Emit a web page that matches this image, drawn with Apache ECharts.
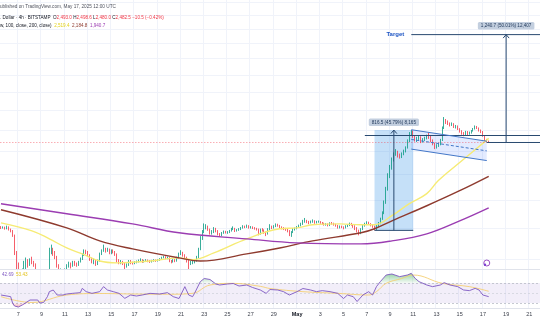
<!DOCTYPE html>
<html>
<head>
<meta charset="utf-8">
<title>ETH/USD 4h</title>
<script src="https://cdn.jsdelivr.net/npm/echarts@6/dist/echarts.min.js"></script>
<style>
html,body{margin:0;padding:0;background:#ffffff;}
#chart{width:540px;height:336px;}
</style>
</head>
<body>
<div id="chart"></div>
<script>
// ---------- data: ETH / USD, 4h bars, Bitstamp ----------
const firstBarTime = Date.UTC(2025, 3, 5, 12);   // first bar: Apr 5 12:00 UTC
const slotCount = 279;                            // time slots on the axis (incl. empty space on the right)
const firstOpen = 1805;

const closes = [
  1800,1805,1795,
  1805,1790,1780,1750,1640,1570,
  1480,1450,1530,1560,1590,1570,
  1595,1580,1565,1530,1490,1470,
  1450,1420,1470,1520,1650,1660,
  1640,1610,1560,1510,1530,1520,
  1530,1560,1570,1560,1580,1570,
  1565,1585,1600,1625,1650,1640,
  1625,1600,1585,1595,1575,1590,
  1630,1650,1660,1650,1660,1640,
  1650,1645,1630,1590,1580,1585,
  1575,1560,1565,1585,1580,1575,
  1580,1585,1590,1595,1585,1590,
  1595,1590,1585,1590,1595,1590,
  1595,1600,1610,1615,1605,1610,
  1590,1585,1595,1590,1610,1630,
  1640,1625,1610,1590,1575,1580,
  1585,1590,1610,1660,1730,1770,
  1800,1810,1790,1765,1770,1795,
  1780,1760,1750,1765,1775,1770,
  1770,1780,1790,1795,1780,1785,
  1790,1800,1810,1805,1815,1800,
  1805,1800,1795,1790,1760,1790,
  1785,1770,1760,1790,1810,1800,
  1810,1820,1815,1805,1800,1795,
  1790,1780,1755,1770,1790,1795,
  1805,1815,1825,1845,1850,1840,
  1835,1842,1848,1835,1840,1842,
  1835,1830,1822,1826,1818,1832,
  1830,1822,1815,1800,1810,1805,
  1800,1810,1818,1828,1822,1812,
  1800,1780,1765,1790,1815,1825,
  1835,1828,1818,1810,1795,1812,
  1830,1860,1905,1980,2080,2190,
  2250,2330,2370,2395,2365,2355,
  2375,2400,2430,2495,2565,2590,
  2540,2500,2520,2530,2490,2510,
  2520,2540,2530,2500,2470,2440,
  2450,2465,2505,2620,2690,2680,
  2665,2650,2660,2630,2640,2610,
  2590,2570,2560,2580,2562,2572,
  2592,2612,2632,2620,2598,2585,
  2545,2505,2493,2482.5
];
const highs = [
  1812,1810,1808,
  1815,1810,1795,1785,1755,1650,
  1580,1500,1545,1590,1610,1600,
  1605,1615,1590,1575,1540,1500,
  1480,1460,1480,1530,1670,1690,
  1670,1650,1620,1570,1545,1540,
  1545,1570,1585,1580,1590,1590,
  1580,1590,1610,1635,1660,1658,
  1650,1630,1610,1605,1600,1598,
  1640,1660,1690,1670,1670,1665,
  1660,1660,1650,1635,1600,1595,
  1590,1580,1575,1595,1595,1585,
  1588,1592,1598,1605,1600,1596,
  1600,1598,1595,1596,1600,1598,
  1600,1606,1615,1620,1618,1616,
  1612,1595,1600,1600,1615,1640,
  1655,1645,1630,1615,1595,1590,
  1595,1600,1620,1670,1745,1785,
  1830,1825,1815,1795,1785,1805,
  1800,1785,1765,1772,1782,1780,
  1778,1786,1800,1810,1800,1792,
  1798,1806,1818,1815,1822,1818,
  1812,1810,1805,1800,1795,1795,
  1798,1790,1775,1798,1825,1815,
  1818,1830,1828,1820,1810,1805,
  1800,1795,1785,1778,1798,1802,
  1812,1822,1835,1855,1868,1855,
  1848,1850,1858,1852,1848,1850,
  1846,1840,1835,1832,1830,1838,
  1840,1835,1828,1820,1816,1815,
  1810,1818,1825,1836,1834,1826,
  1818,1805,1788,1798,1822,1835,
  1845,1842,1832,1825,1815,1820,
  1840,1870,1915,1995,2100,2210,
  2280,2345,2390,2420,2405,2380,
  2390,2415,2445,2510,2580,2599.5,
  2595,2550,2535,2550,2540,2522,
  2535,2555,2575,2545,2510,2480,
  2465,2480,2515,2635,2730,2710,
  2695,2675,2675,2668,2650,2645,
  2618,2598,2580,2592,2590,2585,
  2600,2620,2645,2640,2625,2605,
  2590,2552,2515,2498.6
];
const lows = [
  1792,1795,1788,
  1790,1782,1770,1740,1625,1540,
  1420,1410,1440,1500,1540,1550,
  1560,1570,1555,1520,1480,1455,
  1430,1385,1410,1460,1510,1630,
  1620,1600,1550,1490,1470,1505,
  1510,1525,1550,1545,1555,1560,
  1555,1560,1580,1595,1620,1630,
  1615,1590,1575,1570,1560,1565,
  1585,1625,1645,1640,1645,1630,
  1630,1635,1620,1580,1570,1570,
  1565,1540,1550,1560,1570,1568,
  1570,1575,1580,1585,1578,1580,
  1585,1582,1578,1580,1585,1584,
  1586,1590,1596,1605,1600,1600,
  1582,1575,1580,1582,1585,1605,
  1625,1615,1600,1580,1540,1565,
  1570,1575,1585,1605,1655,1720,
  1765,1790,1780,1755,1755,1765,
  1770,1750,1740,1745,1760,1762,
  1760,1765,1775,1785,1772,1775,
  1780,1785,1795,1798,1800,1795,
  1795,1792,1788,1782,1750,1755,
  1775,1760,1745,1755,1785,1792,
  1795,1805,1808,1798,1790,1785,
  1780,1770,1745,1740,1765,1782,
  1790,1800,1810,1820,1835,1832,
  1825,1830,1835,1828,1830,1835,
  1828,1822,1815,1815,1810,1812,
  1822,1815,1808,1795,1796,1798,
  1790,1796,1805,1812,1815,1800,
  1785,1770,1750,1758,1785,1808,
  1820,1820,1810,1800,1783,1785,
  1805,1825,1855,1895,1970,2070,
  2170,2240,2310,2360,2345,2335,
  2340,2365,2390,2425,2485,2550,
  2525,2490,2485,2505,2475,2480,
  2495,2510,2515,2485,2455,2420,
  2425,2440,2455,2495,2610,2660,
  2650,2635,2640,2620,2615,2600,
  2575,2555,2540,2550,2550,2555,
  2565,2585,2605,2610,2585,2570,
  2535,2495,2485,2480
];

// moving averages: [bar index, value]
const maFast = [[0,1834],[16,1780],[25,1727],[34,1669],[42,1632],[51,1589],[60,1578],[68,1582],[77,1589],[92,1608],[99,1597],[110,1638],[127,1727],[144,1794],[153,1800],[161,1821],[175,1827],[186,1821],[193,1821],[202,1884],[211,1971],[220,2047],[226,2150],[237,2301],[252,2519.4]];
const maMid  = [[0,1927],[34,1800],[51,1714],[68,1663],[92,1608],[103,1589],[127,1632],[144,1669],[161,1714],[186,1767],[193,1794],[202,1848],[220,1956],[237,2070],[252,2184.8]];
const maSlow = [[0,1971],[34,1898],[68,1827],[92,1767],[127,1727],[153,1701],[186,1695],[202,1714],[220,1760],[237,1848],[252,1940.7]];

// RSI (14) and its moving average: [bar index, value]
const rsi = [[0,46],[5,42.7],[6,30],[7,24],[9,22],[10,21],[11,26],[12,30],[15,36],[16,33],[19,36],[20,30],[22,31],[24,42.7],[25,52.7],[27,56],[29,46],[30,42.7],[32,46],[34,48],[37,49.3],[41,50.7],[42,59.3],[44,52.7],[47,49.3],[51,52.7],[53,62.7],[55,56],[58,52.7],[61,49.3],[64,39.3],[67,46],[70,44],[73,46],[77,49.3],[82,48],[86,50.7],[89,42.7],[92,39],[95,62.7],[97,46],[99,42.7],[100,49.3],[103,72.7],[105,79],[108,77],[111,68],[113,66],[117,68],[120,69],[123,64],[127,66],[130,61],[134,56],[137,49.3],[139,57],[143,56],[146,52.7],[149,46],[153,52.7],[156,59],[160,56],[163,52.7],[166,54.7],[170,52.7],[174,49.3],[177,39],[179,46],[182,42.7],[184,33],[187,46],[190,52.7],[192,46],[194,62.7],[196,72.7],[199,86],[202,88],[206,82.7],[210,86],[212,89.3],[214,79.3],[216,72.7],[220,66],[223,62.7],[227,66],[229,70.7],[232,66],[236,62.7],[239,56],[242,54.7],[245,59.3],[247,56],[249,46],[252,42.69]];
const rsiMa = [[0,42.7],[16,31],[34,46],[51,49],[68,48],[86,47.5],[99,49.3],[108,66],[120,69.3],[134,63.3],[139,59],[156,52.7],[174,49.3],[190,46],[194,52.7],[199,69.3],[207,79],[213,86],[228,69.3],[242,62.7],[252,53.43]];

// time-axis ticks
const tickDates  = ['04-07','04-09','04-11','04-13','04-15','04-17','04-19','04-21','04-23','04-25','04-27','04-29','05-01','05-03','05-05','05-07','05-09','05-11','05-13','05-15','05-17','05-19','05-21'];
const tickLabels = ['7','9','11','13','15','17','19','21','23','25','27','29','May','3','5','7','9','11','13','15','17','19','21'];
const priceLevels = [1600,1800,2000,2200,2400,2600,2800,3000,3200,3400,3600,3800,4000,4200];

// chart drawings, anchored on (bar index, price)
const poleRange  = { from: 193, to: 213, mid: 203, low: 1783.0, high: 2599.5, text: '816.5 (45.79%) 8,165' };
const breakLevel = { from: 188, price: 2547 };
const flag       = { from: 212, to: 251, upperStart: 2603, upperEnd: 2493, lowerStart: 2420, lowerEnd: 2318 };
const target     = { from: 212, price: 3721.7, text: 'Target' };
const projection = { at: 261, baseFrom: 251, base: 2481.0, top: 3721.7, text: '1,240.7 (50.01%) 12,407' };
const eventMark  = { at: 251 };

// ---------- helpers ----------
const FONT = '"Liberation Sans", Arial, sans-serif';
const pad2 = n => String(n).padStart(2, '0');
const slots = [];
for (let k = 0; k < slotCount; k++) {
  const d = new Date(firstBarTime + k * 4 * 3600 * 1000);
  slots.push(pad2(d.getUTCMonth() + 1) + '-' + pad2(d.getUTCDate()) + ' ' + pad2(d.getUTCHours()) + ':00');
}
const tickText = {};
tickDates.forEach((d, k) => { tickText[d + ' 00:00'] = tickLabels[k]; });
const isTick = (idx, val) => tickText[val] !== undefined;
const fmtNum = (v, d) => v.toFixed(d).replace(/\B(?=(\d{3})+(?!\d))/g, ',');

const candles = closes.map((c, k) => [k === 0 ? firstOpen : closes[k - 1], c, lows[k], highs[k]]);
const lastClose = closes[closes.length - 1];

const MAIN = { top: 0, height: 269 };
const OSC  = { top: 269, height: 39 };
const GRIDLINE = '#f0f3fa';

const xBase = {
  type: 'category', data: slots, boundaryGap: true,
  axisTick: { show: false },
  splitLine: { show: true, interval: isTick, lineStyle: { color: GRIDLINE, width: 1 } }
};

const option = {
  animation: false,
  backgroundColor: '#ffffff',
  grid: [
    { left: 0, right: 0, top: MAIN.top, height: MAIN.height, containLabel: false, outerBoundsMode: 'none' },
    { left: 0, right: 0, top: OSC.top, height: OSC.height, containLabel: false, outerBoundsMode: 'none' }
  ],
  xAxis: [
    Object.assign({}, xBase, { gridIndex: 0, axisLine: { show: false }, axisLabel: { show: false } }),
    Object.assign({}, xBase, {
      gridIndex: 1, z: 6,
      axisLine: { show: true, lineStyle: { color: '#e0e3eb', width: 1 } },
      axisLabel: {
        show: true, interval: isTick, margin: 3, fontSize: 5.5, fontFamily: FONT, color: '#3b3f4a',
        formatter: v => tickText[v] === 'May' ? '{b|May}' : (tickText[v] || ''),
        rich: { b: { fontWeight: 'bold', fontSize: 5.5, fontFamily: FONT, color: '#131722' } }
      }
    })
  ],
  yAxis: [
    { type: 'log', gridIndex: 0, min: 1542, max: 4239, show: false, splitLine: { show: false } },
    { type: 'value', gridIndex: 1, min: 20, max: 98, show: false, splitLine: { show: false } }
  ],
  series: [
    {
      name: 'ETHUSD', type: 'candlestick', xAxisIndex: 0, yAxisIndex: 0, data: candles,
      barWidth: '62%', clip: true, z: 3,
      itemStyle: { color: '#089981', color0: '#F23645', borderColor: '#089981', borderColor0: '#F23645', borderWidth: 0.8 },
      markLine: {
        silent: true, symbol: 'none', label: { show: false },
        lineStyle: { color: 'rgba(242,54,69,0.5)', type: [1.5, 1.5], width: 0.8 },
        data: [{ yAxis: lastClose }]
      }
    },
    {
      name: 'SMA 50', type: 'line', xAxisIndex: 0, yAxisIndex: 0, data: maFast, smooth: 0.4,
      showSymbol: false, z: 4, lineStyle: { color: '#F6EB74', width: 1.4 }
    },
    {
      name: 'SMA 100', type: 'line', xAxisIndex: 0, yAxisIndex: 0, data: maMid, smooth: 0.4,
      showSymbol: false, z: 4, lineStyle: { color: '#8E3A2E', width: 1.4 }
    },
    {
      name: 'SMA 200', type: 'line', xAxisIndex: 0, yAxisIndex: 0, data: maSlow, smooth: 0.4,
      showSymbol: false, z: 4, lineStyle: { color: '#9B3DB2', width: 1.4 },
      markLine: {
        silent: true, symbol: 'none', label: { show: false }, z: 0,
        lineStyle: { color: GRIDLINE, type: 'solid', width: 1 },
        data: priceLevels.map(v => ({ yAxis: v }))
      }
    },
    {
      name: 'RSI', type: 'line', xAxisIndex: 1, yAxisIndex: 1, data: rsi,
      showSymbol: false, z: 9, lineStyle: { color: '#7E57C2', width: 0.9 },
      markArea: {
        silent: true, z: 6, itemStyle: { color: 'rgba(126,87,194,0.1)' },
        data: [[{ yAxis: 30 }, { yAxis: 70 }]]
      },
      markLine: {
        silent: true, z: 7, symbol: 'none', label: { show: false },
        lineStyle: { color: '#b8bbc6', type: [2, 2], width: 0.8 },
        data: [{ yAxis: 70 }, { yAxis: 50, lineStyle: { color: '#d1d4dc' } }, { yAxis: 30 }]
      }
    },
    {
      name: 'RSI MA', type: 'line', xAxisIndex: 1, yAxisIndex: 1, data: rsiMa, smooth: 0.4,
      showSymbol: false, z: 8, lineStyle: { color: '#F5CF73', width: 0.9 }
    },
    {
      name: 'Overbought', type: 'line', xAxisIndex: 1, yAxisIndex: 1,
      data: rsi.map(([i, v]) => [i, Math.max(v, 70)]),
      showSymbol: false, z: 7, lineStyle: { width: 0, opacity: 0 },
      areaStyle: {
        origin: 70,
        color: new echarts.graphic.LinearGradient(0, 0, 0, 1, [
          { offset: 0, color: 'rgba(56,170,80,0.75)' },
          { offset: 1, color: 'rgba(56,170,80,0.08)' }
        ])
      }
    },
    {
      name: 'Oversold', type: 'line', xAxisIndex: 1, yAxisIndex: 1,
      data: rsi.map(([i, v]) => [i, Math.min(v, 30)]),
      showSymbol: false, z: 7, lineStyle: { width: 0, opacity: 0 },
      areaStyle: {
        origin: 30,
        color: new echarts.graphic.LinearGradient(0, 0, 0, 1, [
          { offset: 0, color: 'rgba(242,54,69,0.08)' },
          { offset: 1, color: 'rgba(242,54,69,0.6)' }
        ])
      }
    }
  ]
};

const chart = echarts.init(document.getElementById('chart'), null, { renderer: 'canvas' });
chart.setOption(option);

// ---------- drawings and legends ----------
const at = (i, p) => chart.convertToPixel({ gridIndex: 0 }, [i, p]);
const W = chart.getWidth();
const H = chart.getHeight();
const NAVY = '#294a70';
const BLUE = '#4377c8';
const g = [];

// lower panes sit on an opaque background so candle wicks stop at the price pane edge
g.push({ type: 'rect', silent: true, z: 5,
         shape: { x: 0, y: OSC.top, width: W, height: H - OSC.top },
         style: { fill: '#ffffff' } });
g.push({ type: 'line', silent: true, z: 6,
         shape: { x1: 0, y1: OSC.top + 0.5, x2: W, y2: OSC.top + 0.5 },
         style: { stroke: '#e0e3eb', lineWidth: 1 } });

function seg(a, b, stroke, dash) {
  g.push({ type: 'line', silent: true, z: 20, shape: { x1: a[0], y1: a[1], x2: b[0], y2: b[1] },
           style: { stroke: stroke, lineWidth: 1, lineDash: dash || null } });
}
function arrowUp(p, stroke) {
  g.push({ type: 'polyline', silent: true, z: 20,
           shape: { points: [[p[0] - 3, p[1] + 3.5], [p[0], p[1]], [p[0] + 3, p[1] + 3.5]] },
           style: { stroke: stroke, lineWidth: 1, fill: null } });
}
function tag(x, y, text) {
  g.push({ type: 'text', silent: true, z: 21, x: x, y: y,
           style: { text: text, fontSize: 4.6, fontFamily: FONT, fill: '#1d3557', align: 'center', verticalAlign: 'bottom',
                    backgroundColor: '#c3cfdf', padding: [1.5, 3, 1, 3], borderRadius: 1.5 } });
}

// price range over the flag pole
const pTop = at(poleRange.from, poleRange.high);
const pBot = at(poleRange.to, poleRange.low);
g.push({ type: 'rect', silent: true, z: 1,
         shape: { x: pTop[0], y: pTop[1], width: pBot[0] - pTop[0], height: pBot[1] - pTop[1] },
         style: { fill: 'rgba(41,140,230,0.27)' } });
seg([pTop[0], pBot[1]], [pBot[0], pBot[1]], NAVY);
const poleA = at(poleRange.mid, poleRange.low), poleB = at(poleRange.mid, poleRange.high);
seg(poleA, poleB, NAVY);
arrowUp(poleB, NAVY);
tag(poleB[0], pTop[1] - 4, poleRange.text);

// breakout level
const bl = at(breakLevel.from, breakLevel.price);
seg(bl, [W, bl[1]], NAVY);

// descending flag channel
const u0 = at(flag.from, flag.upperStart), u1 = at(flag.to, flag.upperEnd);
const l0 = at(flag.from, flag.lowerStart), l1 = at(flag.to, flag.lowerEnd);
g.push({ type: 'polygon', silent: true, z: 1,
         shape: { points: [u0, u1, l1, l0] }, style: { fill: 'rgba(41,98,255,0.13)' } });
seg(u0, u1, BLUE);
seg(l0, l1, BLUE);
seg([u0[0], (u0[1] + l0[1]) / 2], [u1[0], (u1[1] + l1[1]) / 2], BLUE, [3, 2]);

// target line
const tg = at(target.from, target.price);
seg(tg, [W, tg[1]], NAVY);
g.push({ type: 'text', silent: true, z: 21, x: tg[0] - 7, y: tg[1],
         style: { text: target.text, fontSize: 6, fontWeight: 'bold', fontFamily: FONT, fill: '#1f56c4', align: 'right', verticalAlign: 'middle' } });

// measured move projection
const prBase = at(projection.at, projection.base), prTop = at(projection.at, projection.top);
seg(at(projection.baseFrom, projection.base), [W, prBase[1]], NAVY);
seg(prBase, prTop, NAVY);
arrowUp(prTop, NAVY);
tag(prTop[0], prTop[1] - 5, projection.text);

// event marker at the bottom of the price pane
const ev = at(eventMark.at, 2000);
const evY = MAIN.top + MAIN.height - 6;
g.push({ type: 'circle', silent: true, z: 21, shape: { cx: ev[0], cy: evY, r: 3 },
         style: { fill: '#ffffff', stroke: '#9c4fc4', lineWidth: 1 } });
g.push({ type: 'circle', silent: true, z: 22, shape: { cx: ev[0] - 1.8, cy: evY + 1.8, r: 1.2 },
         style: { fill: '#7b3fd0' } });

// header legends
const last = candles[candles.length - 1];
const chg = last[1] - last[0];
const chgPct = chg / last[0] * 100;
const signed = v => (v < 0 ? '\u2212' : '+') + fmtNum(Math.abs(v), 1);
g.push({ type: 'text', silent: true, z: 30, x: -3.2, y: 7,
         style: { text: 'Published on TradingView.com, May 17, 2025 12:00 UTC', fontSize: 4.7, fontFamily: FONT, fill: '#50535e', verticalAlign: 'middle' } });
g.push({ type: 'text', silent: true, z: 30, x: 0, y: 18,
         style: { text: '. Dollar \u00b7 4h \u00b7 BITSTAMP', fontSize: 4.6, fontFamily: FONT, fill: '#131722', verticalAlign: 'middle' } });
g.push({ type: 'text', silent: true, z: 30, x: 53, y: 18,
         style: {
           text: '{k|O}{v|' + fmtNum(last[0], 1) + '} {k|H}{v|' + fmtNum(last[3], 1) + '} {k|L}{v|' + fmtNum(last[2], 1) +
                 '} {k|C}{v|' + fmtNum(last[1], 1) + '} {v|' + signed(chg) + ' (\u2212' + Math.abs(chgPct).toFixed(2) + '%)}',
           verticalAlign: 'middle', fontSize: 4.6, fontFamily: FONT,
           rich: {
             k: { fontSize: 4.6, fontFamily: FONT, fill: '#131722' },
             v: { fontSize: 4.6, fontFamily: FONT, fill: '#F23645' }
           }
         } });
const maLast = s => fmtNum(s[s.length - 1][1], 1);
g.push({ type: 'text', silent: true, z: 30, x: 0, y: 26,
         style: {
           text: '{k|w, 100, close, 200, close)}  {a|' + maLast(maFast) + '}  {b|' + maLast(maMid) + '}  {c|' + maLast(maSlow) + '}',
           verticalAlign: 'middle', fontSize: 4.6, fontFamily: FONT,
           rich: {
             k: { fontSize: 4.6, fontFamily: FONT, fill: '#131722' },
             a: { fontSize: 4.6, fontFamily: FONT, fill: '#e3d21a' },
             b: { fontSize: 4.6, fontFamily: FONT, fill: '#8E3A2E' },
             c: { fontSize: 4.6, fontFamily: FONT, fill: '#9B3DB2' }
           }
         } });
g.push({ type: 'text', silent: true, z: 30, x: 2, y: OSC.top + 6,
         style: {
           text: '{a|' + rsi[rsi.length - 1][1].toFixed(2) + '}  {b|' + rsiMa[rsiMa.length - 1][1].toFixed(2) + '}',
           verticalAlign: 'middle', fontSize: 4.6, fontFamily: FONT,
           rich: {
             a: { fontSize: 4.6, fontFamily: FONT, fill: '#7E57C2' },
             b: { fontSize: 4.6, fontFamily: FONT, fill: '#e3c21a' }
           }
         } });

chart.setOption({ graphic: g });
</script>
</body>
</html>
